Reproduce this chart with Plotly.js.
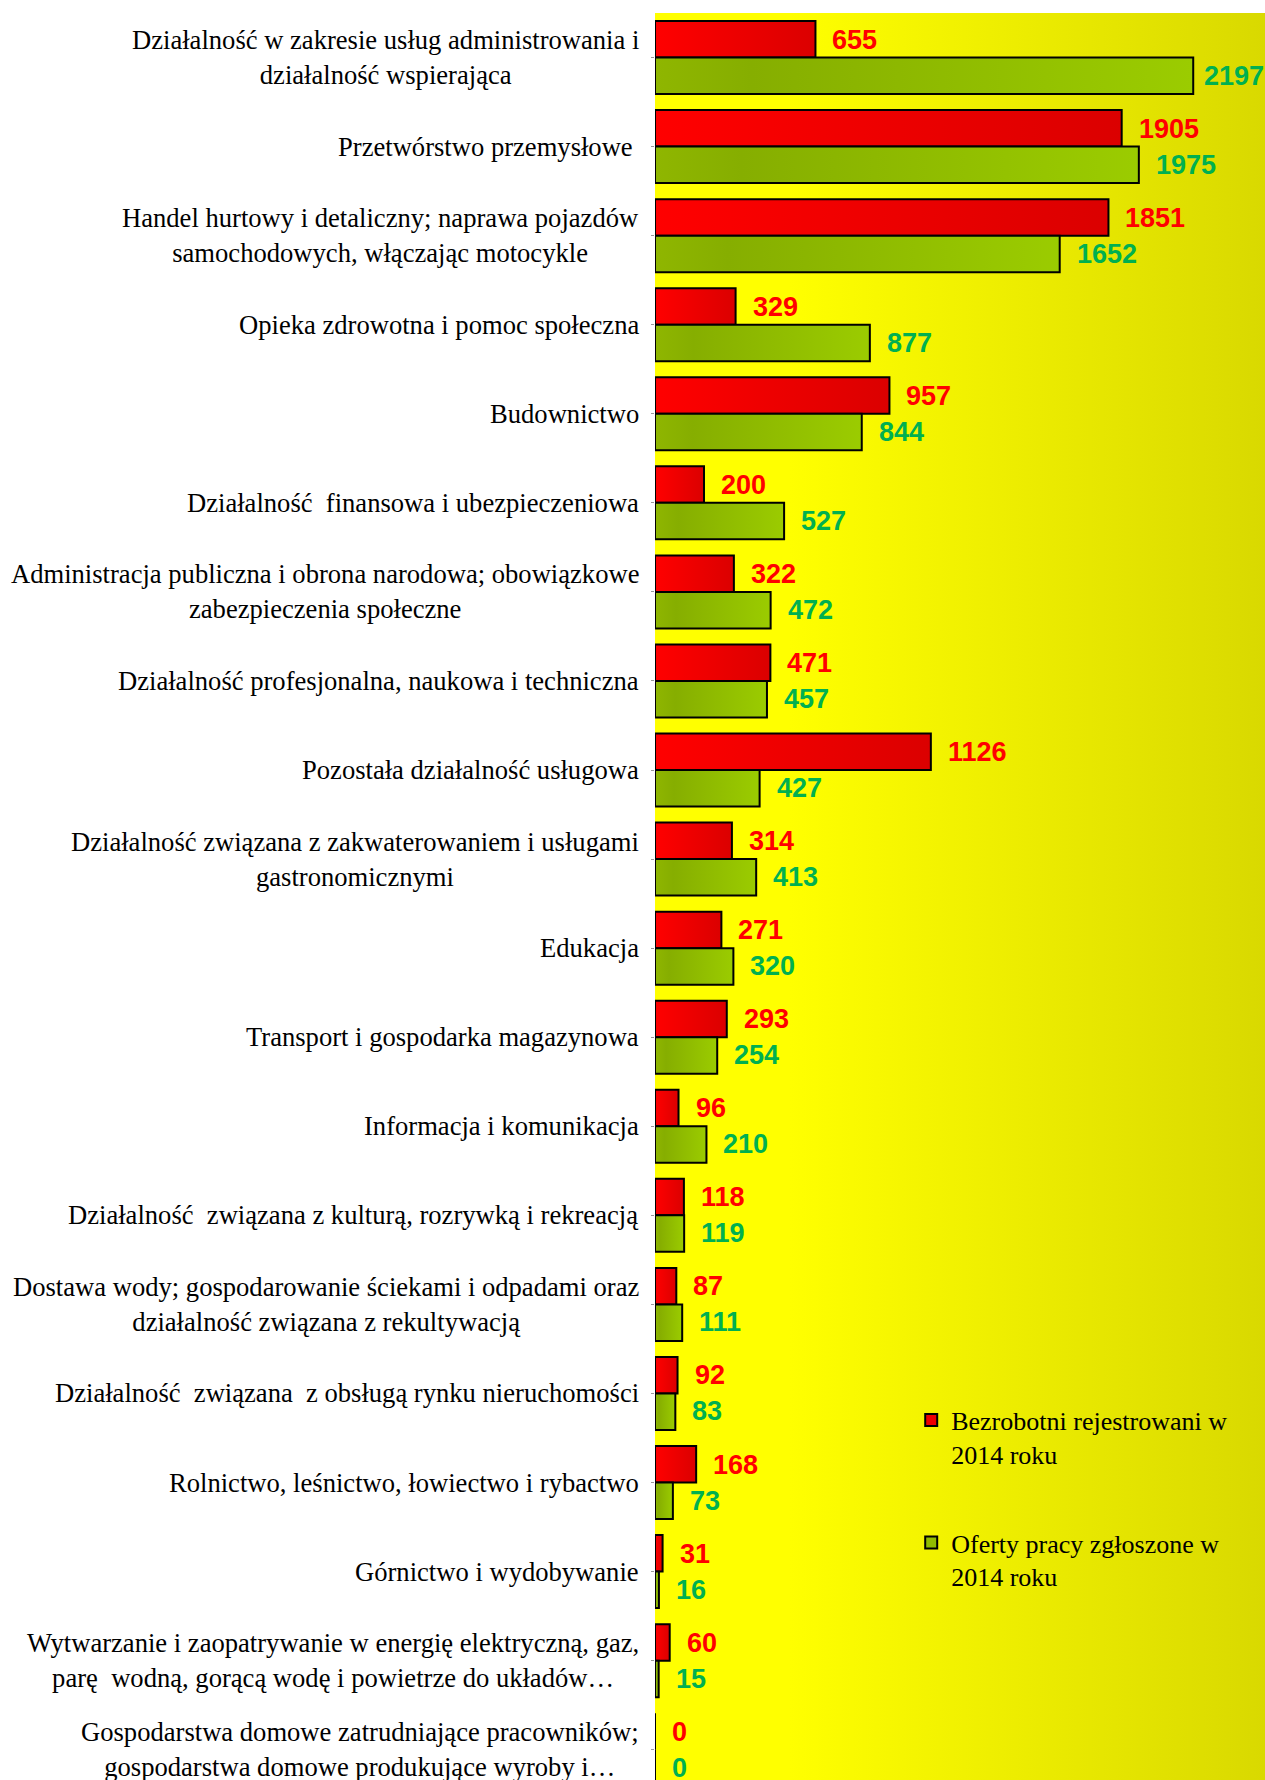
<!DOCTYPE html>
<html>
<head>
<meta charset="utf-8">
<script src="https://cdn.plot.ly/plotly-3.0.1.min.js"></script>
<style>
  html, body { margin: 0; padding: 0; background: #ffffff; }
  #chart { width: 1265px; height: 1780px; }
</style>
</head>
<body>
<div id="chart"></div>
<script>
// ---- data ----
const categories = [
  "Działalność w zakresie usług administrowania i<br>działalność wspierająca",
  "Przetwórstwo przemysłowe\u00a0",
  "Handel hurtowy i detaliczny; naprawa pojazdów<br>samochodowych, włączając motocykle",
  "Opieka zdrowotna i pomoc społeczna",
  "Budownictwo",
  "Działalność\u00a0 finansowa i ubezpieczeniowa",
  "Administracja publiczna i obrona narodowa; obowiązkowe<br>zabezpieczenia społeczne",
  "Działalność profesjonalna, naukowa i techniczna",
  "Pozostała działalność usługowa",
  "Działalność związana z zakwaterowaniem i usługami<br>gastronomicznymi",
  "Edukacja",
  "Transport i gospodarka magazynowa",
  "Informacja i komunikacja",
  "Działalność\u00a0 związana z kulturą, rozrywką i rekreacją",
  "Dostawa wody; gospodarowanie ściekami i odpadami oraz<br>działalność związana z rekultywacją",
  "Działalność\u00a0 związana\u00a0 z obsługą rynku nieruchomości",
  "Rolnictwo, leśnictwo, łowiectwo i rybactwo",
  "Górnictwo i wydobywanie",
  "Wytwarzanie i zaopatrywanie w energię elektryczną, gaz,<br>parę\u00a0 wodną, gorącą wodę i powietrze do układów…",
  "Gospodarstwa domowe zatrudniające pracowników;<br>gospodarstwa domowe produkujące wyroby i…"
];
const bezrobotni = [655, 1905, 1851, 329, 957, 200, 322, 471, 1126, 314, 271, 293, 96, 118, 87, 92, 168, 31, 60, 0];
const oferty     = [2197, 1975, 1652, 877, 844, 527, 472, 457, 427, 413, 320, 254, 210, 119, 111, 83, 73, 16, 15, 0];
const seriesNames = ["Bezrobotni rejestrowani w<br>2014 roku", "Oferty pracy zgłoszone w<br>2014 roku"];

// ---- styles ----
const serifFont = "Liberation Serif, Times New Roman, serif";
const sansFont = "Liberation Sans, Arial, sans-serif";
const redFill = "#ee0000";
const greenFill = "#91bc00";
const redText = "#ff0000";
const greenText = "#00b050";
const W = 1265, H = 1780, ML = 655, MT = 13;
const X_MAX = 2490;
const LABEL_SIZE = 27;

const traces = [
  {
    type: "bar", orientation: "h", name: seriesNames[0], legendgroup: "a",
    x: bezrobotni, y: categories,
    marker: { color: redFill, line: { color: "#000000", width: 2 } },
    hoverinfo: "x+y"
  },
  {
    type: "bar", orientation: "h", name: seriesNames[1], legendgroup: "b",
    x: oferty, y: categories,
    marker: { color: greenFill, line: { color: "#000000", width: 2 } },
    hoverinfo: "x+y"
  }
];

// keep value labels inside the plot area (as the original does for the longest bar)
const plotW = W - ML;
const pxPerUnit = plotW / X_MAX;
function labelShift(v) {
  const w = String(v).length * 0.556 * LABEL_SIZE;
  const maxStart = plotW - w - 3;
  return Math.min(15, maxStart - v * pxPerUnit);
}

const annotations = [];
categories.forEach((c, i) => {
  annotations.push({
    xref: "paper", yref: "y", x: 0, y: c, xanchor: "right", yanchor: "middle",
    xshift: -14, align: "center", showarrow: false, text: c,
    font: { family: serifFont, size: 26.6, color: "#000000" }
  });
  annotations.push({
    xref: "x", yref: "y", x: bezrobotni[i], y: c, xanchor: "left", yanchor: "middle",
    xshift: labelShift(bezrobotni[i]), yshift: 18, showarrow: false, text: String(bezrobotni[i]),
    font: { family: sansFont, size: LABEL_SIZE, color: redText, weight: 700 }
  });
  annotations.push({
    xref: "x", yref: "y", x: oferty[i], y: c, xanchor: "left", yanchor: "middle",
    xshift: labelShift(oferty[i]), yshift: -18, showarrow: false, text: String(oferty[i]),
    font: { family: sansFont, size: LABEL_SIZE, color: greenText, weight: 700 }
  });
});

const gradSvg = "<svg xmlns='http://www.w3.org/2000/svg' width='100' height='100' preserveAspectRatio='none'>" +
  "<defs><linearGradient id='g' x1='0' y1='0' x2='1' y2='0'>" +
  "<stop offset='0' stop-color='#ffff00'/><stop offset='0.22' stop-color='#ffff00'/>" +
  "<stop offset='1' stop-color='#d9d900'/></linearGradient></defs>" +
  "<rect width='100' height='100' fill='url(#g)'/></svg>";
const gradSrc = "data:image/svg+xml;base64," + btoa(gradSvg);

const layout = {
  width: W, height: H,
  margin: { l: ML, r: 0, t: MT, b: 0, pad: 0 },
  paper_bgcolor: "#ffffff",
  plot_bgcolor: "#ffff00",
  barmode: "group",
  bargap: 0.18,
  bargroupgap: 0,
  showlegend: true,
  legend: {
    x: 0.42, y: 0.217, xanchor: "left", yanchor: "top",
    bgcolor: "rgba(0,0,0,0)", borderwidth: 0,
    font: { family: serifFont, size: 26, color: "#000000" },
    traceorder: "grouped", tracegroupgap: 52, valign: "top"
  },
  xaxis: {
    range: [0, X_MAX], showgrid: false, zeroline: false, showticklabels: false,
    ticks: "", showline: false, fixedrange: true
  },
  yaxis: {
    type: "category", categoryorder: "array", categoryarray: categories,
    range: [19.34, -0.5], showgrid: false, zeroline: false, showline: false,
    showticklabels: false, ticks: "outside", ticklen: 3, tickcolor: "#999999",
    fixedrange: true
  },
  images: [{
    source: gradSrc, xref: "paper", yref: "paper", x: 0, y: 1, sizex: 1, sizey: 1,
    xanchor: "left", yanchor: "top", sizing: "stretch", layer: "below"
  }],
  annotations: annotations
};

// horizontal shading of each bar, as in the original chart
const barGradients = [
  { id: "barGradRed", stops: [[0, "#ff0000"], [1, "#db0000"]] },
  { id: "barGradGreen", stops: [[0, "#8fb600"], [0.18, "#86ae00"], [1, "#9bcc00"]] }
];

Plotly.newPlot("chart", traces, layout, { displayModeBar: false, staticPlot: true }).then(gd => {
  const NS = "http://www.w3.org/2000/svg";
  const svg = gd.querySelector("svg.main-svg");
  let defs = svg.querySelector("defs");
  if (!defs) { defs = document.createElementNS(NS, "defs"); svg.insertBefore(defs, svg.firstChild); }
  barGradients.forEach(g => {
    const lg = document.createElementNS(NS, "linearGradient");
    lg.setAttribute("id", g.id);
    lg.setAttribute("x1", "0"); lg.setAttribute("y1", "0");
    lg.setAttribute("x2", "1"); lg.setAttribute("y2", "0");
    g.stops.forEach(s => {
      const st = document.createElementNS(NS, "stop");
      st.setAttribute("offset", String(s[0]));
      st.setAttribute("stop-color", s[1]);
      lg.appendChild(st);
    });
    defs.appendChild(lg);
  });
  gd.querySelectorAll(".barlayer .trace").forEach((tr, k) => {
    const g = barGradients[k];
    if (!g) return;
    tr.querySelectorAll(".point path").forEach(p => {
      p.style.fill = "url(#" + g.id + ")";
    });
  });
});
</script>
</body>
</html>
